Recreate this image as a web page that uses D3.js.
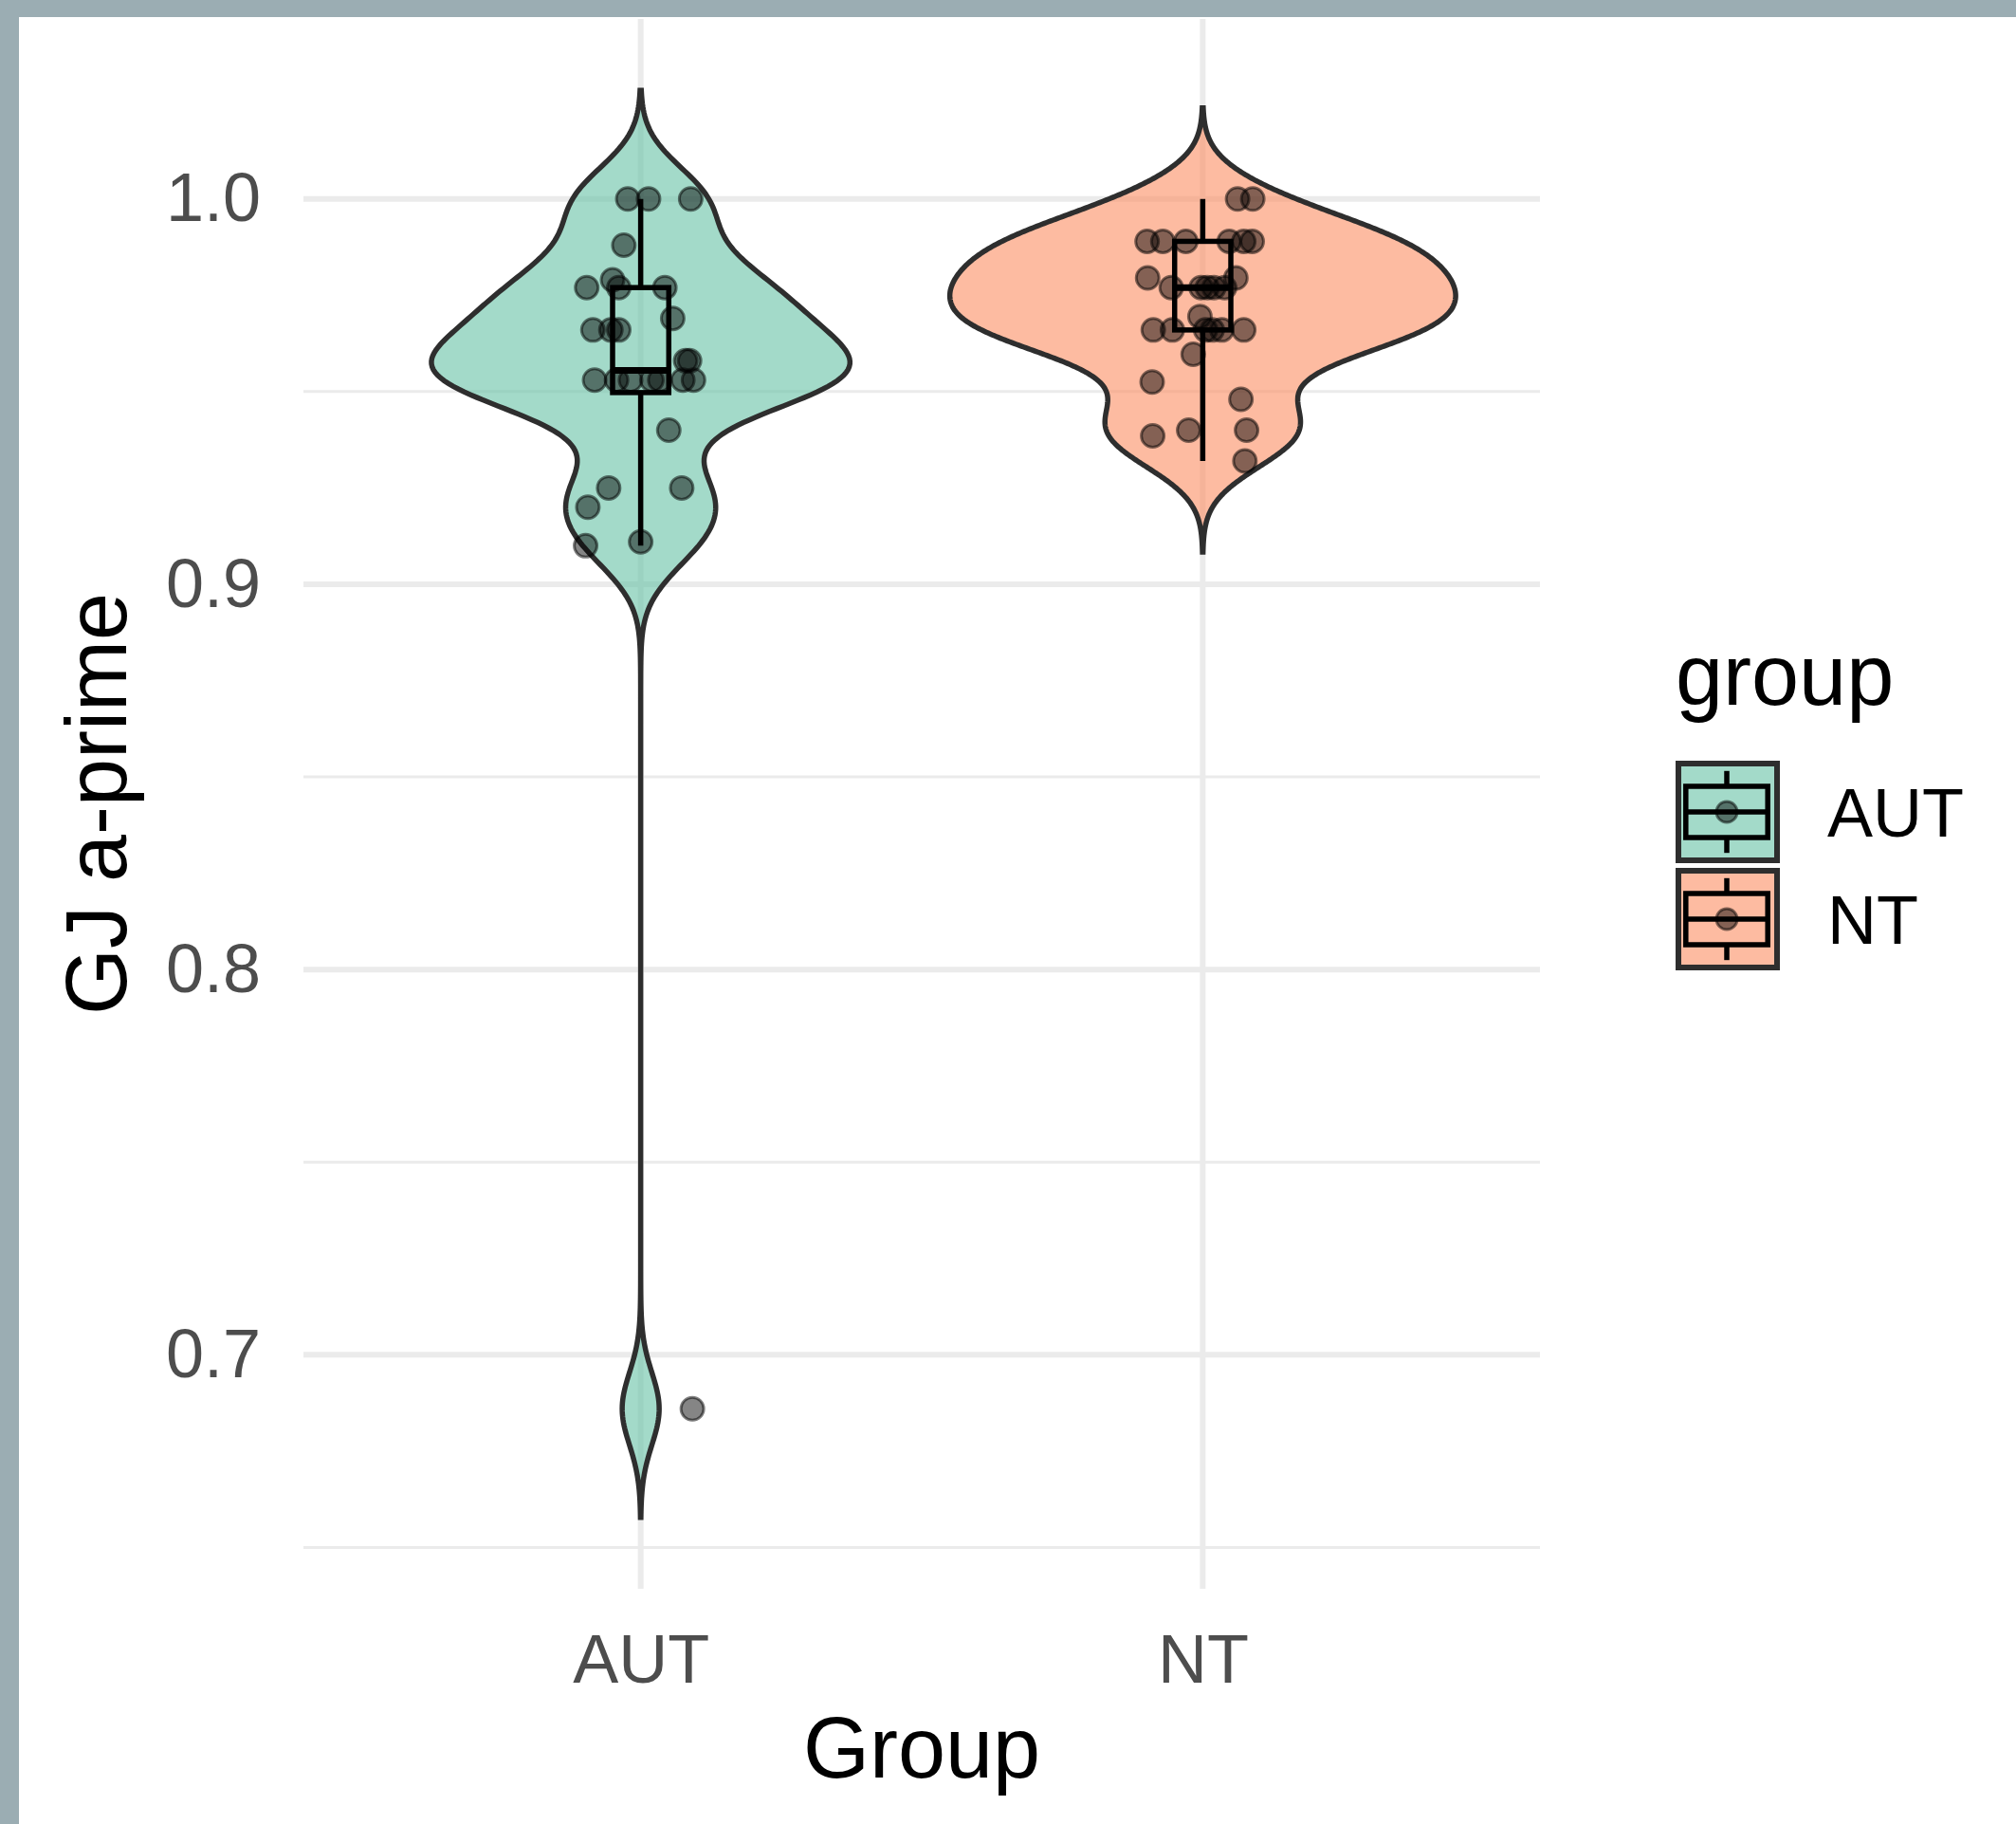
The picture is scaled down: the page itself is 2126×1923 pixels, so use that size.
<!DOCTYPE html>
<meta charset="utf-8">
<style>

body {
  margin: 0;
  background: #fff;
}

svg {
  display: block;
  font-family: "Liberation Sans", Arial, sans-serif;
}

.axis path {
  display: none;
}

.axis text {
  fill: #4d4d4d;
  font-size: 72px;
}

.violin {
  stroke: #2e2e2e;
  stroke-width: 5.5px;
  fill-opacity: 0.6;
}

.box {
  fill: none;
  stroke: #000;
  stroke-width: 5.5px;
}

.dot {
  fill: #000;
  fill-opacity: 0.48;
  stroke: #000;
  stroke-opacity: 0.5;
  stroke-width: 3px;
}

</style>
<svg width="2126" height="1923"></svg>
<script src="https://d3js.org/d3.v7.min.js"></script>
<script>

var groups = ["AUT", "NT"];
var fills = ["#66c2a5", "#fc8d62"];

// scores, plus the horizontal jitter of each point
var autScores = [1.000, 1.000, 1.000, 0.988, 0.977, 0.979, 0.977, 0.977, 0.966, 0.966,
                 0.966, 0.969, 0.958, 0.958, 0.953, 0.953, 0.953, 0.953, 0.953, 0.953,
                 0.953, 0.940, 0.925, 0.920, 0.925, 0.910, 0.911, 0.686];
var autJitter = [-0.023, 0.014, 0.089, -0.030, -0.096, -0.050, -0.039, 0.043, -0.085, -0.053,
                 -0.039, 0.057, 0.087, 0.080, -0.082, -0.043, -0.018, 0.034, 0.075, 0.094,
                 0.020, 0.050, -0.057, -0.094, 0.073, -0.098, 0.000, 0.092];

var ntScores = [1.000, 1.000, 0.989, 0.989, 0.989, 0.989, 0.989, 0.989, 0.9795, 0.977,
                0.977, 0.977, 0.977, 0.977, 0.9795, 0.9695, 0.966, 0.966, 0.966, 0.966,
                0.966, 0.966, 0.9597, 0.9525, 0.948, 0.9385, 0.940, 0.940, 0.932];
var ntJitter = [0.062, 0.089, -0.099, -0.071, -0.030, 0.047, 0.073, 0.088, -0.098, -0.056,
                -0.003, 0.008, 0.020, 0.039, 0.059, -0.005, -0.088, -0.054, 0.005, 0.017,
                0.034, 0.073, -0.017, -0.090, 0.068, -0.089, -0.025, 0.078, 0.075];

var yTicks = [0.7, 0.8, 0.9, 1.0];
var yMinorTicks = [0.65, 0.75, 0.85, 0.95];

var svg = d3.select("svg"),
    margin = {top: 20, right: 502, bottom: 248, left: 320},
    width = +svg.attr("width") - margin.left - margin.right,
    height = +svg.attr("height") - margin.top - margin.bottom;

// grey frame on the top and left edges
svg.append("rect").attr("width", 2126).attr("height", 18).attr("fill", "#9badb3");
svg.append("rect").attr("width", 20).attr("height", 1923).attr("fill", "#9badb3");

var g = svg.append("g").attr("transform", "translate(" + margin.left + "," + margin.top + ")");

function nrd0(v) {
  var s = v.slice().sort(d3.ascending);
  var lo = Math.min(d3.deviation(s), (d3.quantile(s, 0.75) - d3.quantile(s, 0.25)) / 1.34);
  return 0.9 * lo * Math.pow(s.length, -0.2);
}

// gaussian kernel density over range +/- 3 bandwidths, like geom_violin(trim = FALSE)
function density(v) {
  var bw = nrd0(v), ext = d3.extent(v),
      lo = ext[0] - 3 * bw, hi = ext[1] + 3 * bw;
  return d3.range(512).map(function(i) {
    var y = lo + (hi - lo) * i / 511;
    var d = d3.sum(v, function(x) { var u = (y - x) / bw; return Math.exp(-u * u / 2); });
    return {y: y, d: d / (v.length * bw * Math.sqrt(2 * Math.PI))};
  });
}

function boxStats(v) {
  var s = v.slice().sort(d3.ascending),
      q1 = d3.quantile(s, 0.25), med = d3.quantile(s, 0.5), q3 = d3.quantile(s, 0.75),
      iqr = q3 - q1;
  return {
    q1: q1, med: med, q3: q3,
    lo: d3.min(s.filter(function(x) { return x >= q1 - 1.5 * iqr; })),
    hi: d3.max(s.filter(function(x) { return x <= q3 + 1.5 * iqr; }))
  };
}

var data = [
  {id: "AUT", scores: autScores, jitter: autJitter, fill: fills[0]},
  {id: "NT", scores: ntScores, jitter: ntJitter, fill: fills[1]}
];
data.forEach(function(d) {
  d.dens = density(d.scores);
  d.box = boxStats(d.scores);
});

var maxD = d3.max(data, function(d) { return d3.max(d.dens, function(p) { return p.d; }); });
var yLo = d3.min(data, function(d) { return d.dens[0].y; }),
    yHi = d3.max(data, function(d) { return d.dens[d.dens.length - 1].y; }),
    pad = (yHi - yLo) * 0.05;

var x = d3.scalePoint().domain(groups).range([0, width]).padding(0.6),
    y = d3.scaleLinear().domain([yLo - pad, yHi + pad]).range([height, 0]);

var step = x.step();

// grid
g.append("g").selectAll("line")
  .data(yMinorTicks)
  .enter().append("line")
    .attr("x1", 0).attr("x2", width)
    .attr("y1", function(d) { return y(d); }).attr("y2", function(d) { return y(d); })
    .attr("stroke", "#ebebeb").attr("stroke-width", 3);

g.append("g").selectAll("line")
  .data(yTicks)
  .enter().append("line")
    .attr("x1", 0).attr("x2", width)
    .attr("y1", function(d) { return y(d); }).attr("y2", function(d) { return y(d); })
    .attr("stroke", "#ebebeb").attr("stroke-width", 6);

g.append("g").selectAll("line")
  .data(groups)
  .enter().append("line")
    .attr("x1", function(d) { return x(d); }).attr("x2", function(d) { return x(d); })
    .attr("y1", 0).attr("y2", height)
    .attr("stroke", "#ebebeb").attr("stroke-width", 6);

// axes
g.append("g")
    .attr("class", "axis axis--x")
    .attr("transform", "translate(0," + height + ")")
    .call(d3.axisBottom(x).tickSize(0).tickPadding(48));

g.append("g")
    .attr("class", "axis axis--y")
    .call(d3.axisLeft(y).tickValues(yTicks).tickFormat(d3.format(".1f")).tickSize(0).tickPadding(45));

g.selectAll(".axis text").attr("font-family", null).attr("font-size", null);

// violins
var group = g.selectAll(".group")
  .data(data)
  .enter().append("g")
    .attr("class", "group");

group.append("path")
    .attr("class", "violin")
    .attr("fill", function(d) { return d.fill; })
    .attr("d", function(d) {
      var cx = x(d.id);
      return d3.area()
          .y(function(p) { return y(p.y); })
          .x0(function(p) { return cx - p.d / maxD * 0.45 * step; })
          .x1(function(p) { return cx + p.d / maxD * 0.45 * step; })(d.dens);
    });

// boxplots
var bw2 = 0.05 * step;
group.append("line")
    .attr("class", "box")
    .attr("x1", function(d) { return x(d.id); }).attr("x2", function(d) { return x(d.id); })
    .attr("y1", function(d) { return y(d.box.hi); }).attr("y2", function(d) { return y(d.box.q3); });
group.append("line")
    .attr("class", "box")
    .attr("x1", function(d) { return x(d.id); }).attr("x2", function(d) { return x(d.id); })
    .attr("y1", function(d) { return y(d.box.q1); }).attr("y2", function(d) { return y(d.box.lo); });
group.append("rect")
    .attr("class", "box")
    .attr("x", function(d) { return x(d.id) - bw2; })
    .attr("width", 2 * bw2)
    .attr("y", function(d) { return y(d.box.q3); })
    .attr("height", function(d) { return y(d.box.q1) - y(d.box.q3); });
group.append("line")
    .attr("class", "box")
    .style("stroke-width", "7px")
    .attr("x1", function(d) { return x(d.id) - bw2; }).attr("x2", function(d) { return x(d.id) + bw2; })
    .attr("y1", function(d) { return y(d.box.med); }).attr("y2", function(d) { return y(d.box.med); });

// jittered points
group.selectAll(".dot")
  .data(function(d) {
    return d.scores.map(function(s, i) { return {id: d.id, score: s, jit: d.jitter[i]}; });
  })
  .enter().append("circle")
    .attr("class", "dot")
    .attr("r", 12)
    .attr("cx", function(d) { return x(d.id) + d.jit * step; })
    .attr("cy", function(d) { return y(d.score); });

// axis titles
svg.append("text")
    .attr("x", margin.left + width / 2)
    .attr("y", 1874)
    .attr("text-anchor", "middle")
    .attr("font-size", 90)
    .attr("fill", "#000")
    .text("Group");

svg.append("text")
    .attr("transform", "translate(133," + (margin.top + height / 2) + ") rotate(-90)")
    .attr("text-anchor", "middle")
    .attr("font-size", 90)
    .attr("fill", "#000")
    .text("GJ a-prime");

// legend
var legend = svg.append("g").attr("transform", "translate(1767,0)");

legend.append("text")
    .attr("y", 743)
    .attr("font-size", 90)
    .attr("fill", "#000")
    .text("group");

var key = legend.selectAll(".key")
  .data(data)
  .enter().append("g")
    .attr("class", "key")
    .attr("transform", function(d, i) { return "translate(0," + (802 + i * 113) + ")"; });

var ks = 108;
key.append("rect")
    .attr("x", 3).attr("y", 3)
    .attr("width", ks - 4).attr("height", ks - 6)
    .attr("fill", function(d) { return d.fill; })
    .attr("fill-opacity", 0.6)
    .attr("stroke", "#2e2e2e")
    .attr("stroke-width", 6);

key.append("line").attr("class", "box")
    .attr("x1", ks / 2).attr("x2", ks / 2).attr("y1", ks * 0.1).attr("y2", ks * 0.25);
key.append("line").attr("class", "box")
    .attr("x1", ks / 2).attr("x2", ks / 2).attr("y1", ks * 0.75).attr("y2", ks * 0.9);
key.append("rect").attr("class", "box")
    .attr("x", ks * 0.1).attr("width", ks * 0.8)
    .attr("y", ks * 0.25).attr("height", ks * 0.5);
key.append("line").attr("class", "box")
    .attr("x1", ks * 0.1).attr("x2", ks * 0.9).attr("y1", ks / 2).attr("y2", ks / 2);
key.append("circle").attr("class", "dot")
    .attr("r", 11).attr("cx", ks / 2).attr("cy", ks / 2);

key.append("text")
    .attr("x", 160)
    .attr("y", 80)
    .attr("font-size", 72)
    .attr("fill", "#000")
    .text(function(d) { return d.id; });

</script>
